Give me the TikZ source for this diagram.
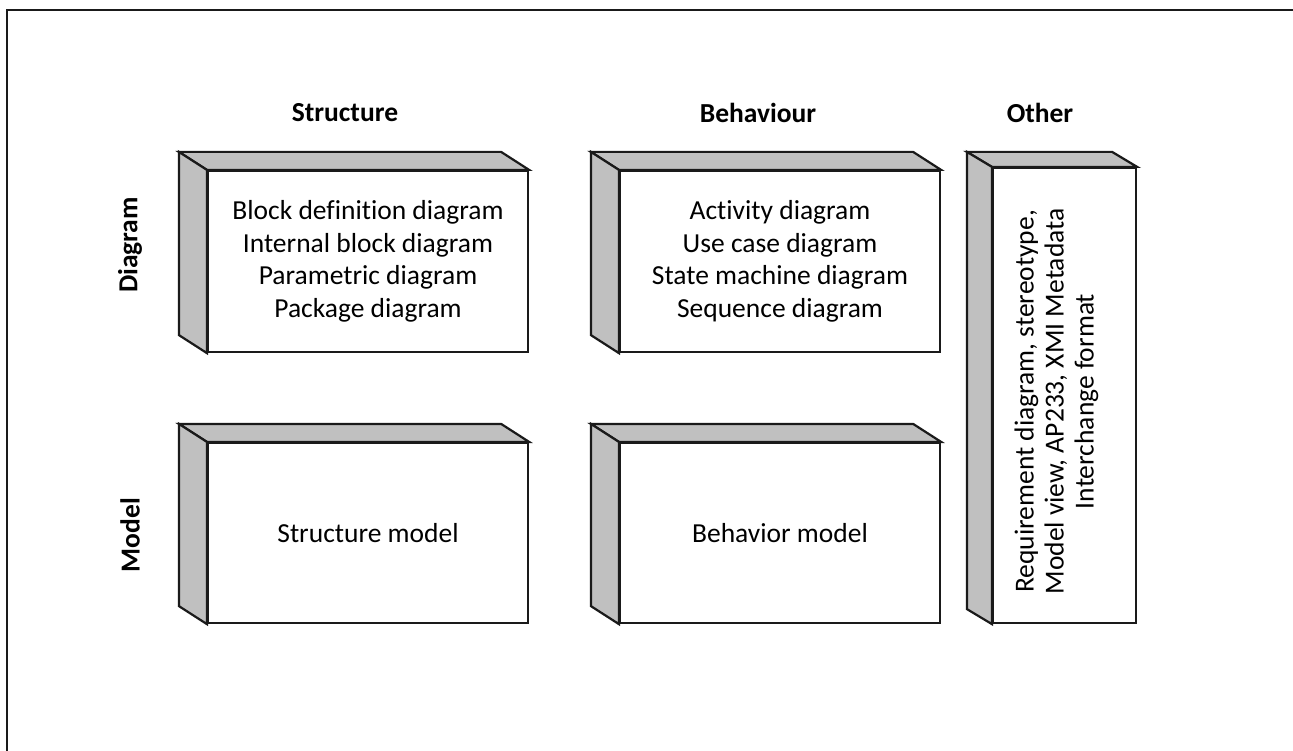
\documentclass[tikz,border=0pt]{standalone}
\usepackage{fontspec}
\setmainfont[Ligatures=NoCommon]{Carlito}
\usetikzlibrary{calc}
\definecolor{sidegray}{HTML}{C0C0C0}
\definecolor{inkline}{HTML}{1A1A1A}
\tikzset{
  face/.style={draw=inkline, line width=2.2pt, fill=white, rectangle,
    align=center, inner sep=0pt, font=\fontsize{27.5}{32.5}\selectfont},
  side/.style={draw=inkline, line width=2.2pt, fill=sidegray, line join=miter},
  header/.style={font=\fontsize{27.5}{30}\selectfont\bfseries, inner sep=0pt},
  frameline/.style={draw=inkline, line width=2pt}
}
% draws the grey top and left faces behind a front face node
\newcommand\blockfaces[3]{%
  \filldraw[side] (#1.north west) -- ++(-#2,-#3)
    -- ($(#1.north east)+(-#2,-#3)$) -- (#1.north east) -- cycle;
  \filldraw[side] (#1.north west) -- ++(-#2,-#3)
    -- ($(#1.south west)+(-#2,-#3)$) -- (#1.south west) -- cycle;
}
\begin{document}
\begin{tikzpicture}[x=1pt,y=-1pt]
  \useasboundingbox (0,0) rectangle (1293,751);
  \coordinate (fbl) at (7,751);
  \coordinate (ftl) at (7,10);
  \coordinate (ftr) at (1293,10);
  \draw[frameline] (fbl) -- (ftl) -- (ftr);

  % column and row headings
  \node[header] (hstruct) at (345,113) {Structure};
  \node[header] (hbehav) at (758,113) {Behaviour};
  \node[header] (hother) at (1040,113) {Other};
  \node[header, rotate=90] (hdiag) at (130,245) {Diagram};
  \node[header, rotate=90] (hmodel) at (130,535) {Model};

  % front faces
  \node[face, minimum width=320pt, minimum height=181pt] (sd) at (368,261.5)
    {Block definition diagram\\Internal block diagram\\Parametric diagram\\Package diagram};
  \node[face, minimum width=320pt, minimum height=181pt] (bd) at (780,261.5)
    {Activity diagram\\Use case diagram\\State machine diagram\\Sequence diagram};
  \node[face, minimum width=320pt, minimum height=180pt] (sm) at (368,533)
    {Structure model};
  \node[face, minimum width=320pt, minimum height=180pt] (bm) at (780,533)
    {Behavior model};
  \node[face, minimum width=143pt, minimum height=455pt] (ot) at (1064.5,395.5) {};
  \node[font=\fontsize{27.5}{30}\selectfont, align=center, rotate=90] (ottext)
    at ($(ot.center)+(-8,6)$)
    {Requirement diagram, stereotype,\\Model view, AP233, XMI Metadata\\Interchange format};

  % grey depth faces
  \blockfaces{sd}{28}{18}
  \blockfaces{bd}{28}{18}
  \blockfaces{sm}{28}{18}
  \blockfaces{bm}{28}{18}
  \blockfaces{ot}{25}{15}
\end{tikzpicture}
\end{document}
